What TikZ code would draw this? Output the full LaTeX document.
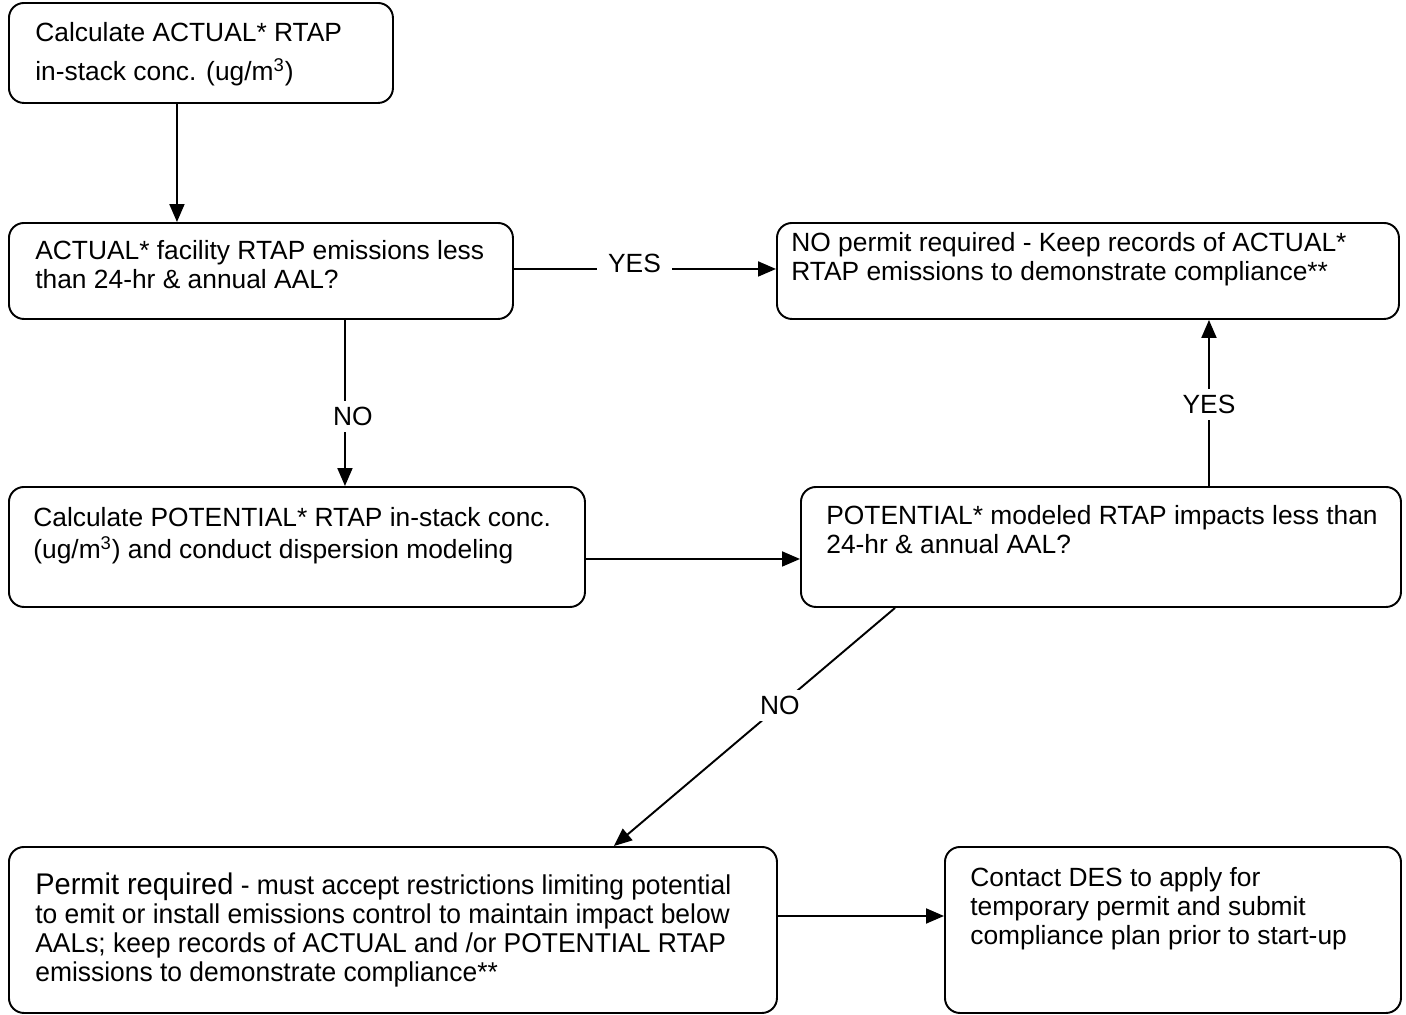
\documentclass[tikz,border=0pt]{standalone}
\usepackage{fontspec}
\setmainfont{Liberation Sans}
\newfontfamily\permfont[FakeStretch=0.97]{Liberation Sans}
\usepackage{tikz}
\usetikzlibrary{positioning,arrows.meta}

\newcommand{\boxfont}{\fontsize{15}{16.5}\selectfont}
\newcommand{\permitfont}{\permfont\fontsize{15.5}{16.5}\selectfont}

\begin{document}
\begin{tikzpicture}[
  stepbox/.style={draw, line width=1.1pt, rounded corners=0.3cm, anchor=north west, inner sep=0pt},
  boxtext/.style={anchor=north west, align=left, inner sep=0pt, font=\boxfont},
  arrow/.style={-{Triangle[length=0.36cm, width=0.3cm]}, line width=1.1pt},
  lab/.style={fill=white, inner xsep=0.22cm, inner ysep=0.12cm, font=\fontsize{15}{17}\selectfont}
]
\useasboundingbox (0,0) rectangle (28.12,-20.28);

% boxes
\node[stepbox, minimum width=7.68cm, minimum height=2.0cm] (actcalc) at (0.16,-0.04) {};
\node[stepbox, minimum width=10.08cm, minimum height=1.92cm] (actchk) at (0.16,-4.44) {};
\node[stepbox, minimum width=12.44cm, minimum height=1.92cm] (nopermit) at (15.52,-4.44) {};
\node[stepbox, minimum width=11.52cm, minimum height=2.4cm] (potcalc) at (0.16,-9.72) {};
\node[stepbox, minimum width=12.0cm, minimum height=2.4cm] (potchk) at (16.0,-9.72) {};
\node[stepbox, minimum width=15.36cm, minimum height=3.32cm] (permit) at (0.16,-16.92) {};
\node[stepbox, minimum width=9.12cm, minimum height=3.32cm] (contact) at (18.88,-16.92) {};

% box texts
\node[boxtext, below right=0.40cm and 0.54cm of actcalc.north west] (actcalctxt)
  {Calculate ACTUAL* RTAP\\[0.2cm]in-stack conc. (ug/m\textsuperscript{3})};
\node[boxtext, below right=0.36cm and 0.54cm of actchk.north west] (actchktxt)
  {ACTUAL* facility RTAP emissions less\\than 24-hr \& annual AAL?};
\node[boxtext, below right=0.20cm and 0.30cm of nopermit.north west] (nopermittxt)
  {NO permit required - Keep records of ACTUAL*\\RTAP emissions to demonstrate compliance**};
\node[boxtext, below right=0.42cm and 0.50cm of potcalc.north west] (potcalctxt)
  {Calculate POTENTIAL* RTAP in-stack conc.\\[0.06cm](ug/m\textsuperscript{3}) and conduct dispersion modeling};
\node[boxtext, below right=0.38cm and 0.52cm of potchk.north west] (potchktxt)
  {POTENTIAL* modeled RTAP impacts less than\\24-hr \& annual AAL?};
\node[boxtext, font=\permitfont, below right=0.52cm and 0.54cm of permit.north west] (permittxt)
  {{\fontsize{17}{17}\selectfont Permit required} - must accept restrictions limiting potential\\to emit or install emissions control to maintain impact below\\AALs; keep records of ACTUAL and /or POTENTIAL RTAP\\emissions to demonstrate compliance**};
\node[boxtext, below right=0.42cm and 0.52cm of contact.north west] (contacttxt)
  {Contact DES to apply for\\temporary permit and submit\\compliance plan prior to start-up};

% connectors
\draw[arrow] ([xshift=-0.48cm]actcalc.south) -- ([xshift=-0.48cm]actcalc.south |- actchk.north);
\draw[arrow] ([yshift=0.04cm]actchk.east) -- node[lab, pos=0.46, yshift=0.12cm] (yes1) {YES} ([yshift=0.04cm]actchk.east -| nopermit.west);
\draw[arrow] ([xshift=1.68cm]actchk.south) -- node[lab, pos=0.58, xshift=0.16cm] (no1) {NO} ([xshift=1.68cm]actchk.south |- potcalc.north);
\draw[arrow] ([yshift=-0.24cm]potcalc.east) -- ([yshift=-0.24cm]potcalc.east -| potchk.west);
\draw[arrow] ([xshift=2.16cm]potchk.north) -- node[lab, pos=0.49] (yes2) {YES} ([xshift=2.16cm]potchk.north |- nopermit.south);
\draw[arrow] ([xshift=1.9cm]potchk.south west) -- node[lab, pos=0.41] (no2) {NO} ([xshift=-3.28cm]permit.north east);
\draw[arrow] ([yshift=0.28cm]permit.east) -- ([yshift=0.28cm]permit.east -| contact.west);

\end{tikzpicture}
\end{document}
